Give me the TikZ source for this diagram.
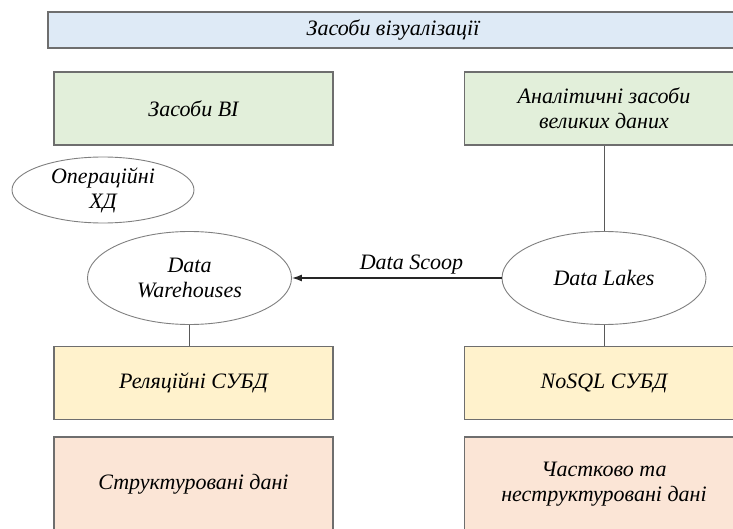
\documentclass[tikz,border=0pt]{standalone}
\usepackage{fontspec}
\setmainfont{Liberation Serif}
\usetikzlibrary{arrows.meta,shapes.geometric}
\definecolor{bluefill}{HTML}{DEEAF6}
\definecolor{greenfill}{HTML}{E2EFDA}
\definecolor{yellowfill}{HTML}{FFF2CC}
\definecolor{pinkfill}{HTML}{FBE5D6}
\definecolor{boxline}{HTML}{6E6E6E}
\definecolor{ellline}{HTML}{7F7F7F}
\definecolor{conline}{HTML}{595959}
\tikzset{
  every node/.style={font=\fontsize{22}{25}\selectfont\itshape, align=center, text=black},
  box/.style={rectangle, draw=boxline, line width=1.3pt, minimum width=279pt, minimum height=73pt, inner sep=0pt},
  oval/.style={ellipse, draw=ellline, line width=0.9pt, inner sep=0pt},
  conn/.style={draw=conline, line width=1pt},
}
\begin{document}
\begin{tikzpicture}[x=1pt,y=-1pt]
\useasboundingbox (0,0) rectangle (733,529);
\clip (0,0) rectangle (733,529);
\node[box, fill=bluefill, minimum width=690pt, minimum height=36pt] (viz) at (393,30) {Засоби візуалізації};
\node[box, fill=greenfill] (bi) at (193.5,108.5) {Засоби BI};
\node[box, fill=greenfill] (an) at (604,108.5) {Аналітичні засоби\\великих даних};
\node[oval, minimum width=182pt, minimum height=66pt] (op) at (103,190) {Операційні\\ХД};
\node[oval, minimum width=204pt, minimum height=93pt] (dw) at (189.5,278) {Data\\Warehouses};
\node[oval, minimum width=204pt, minimum height=93pt] (dl) at (604,278) {Data Lakes};
\node[box, fill=yellowfill] (rel) at (193.5,383) {Реляційні СУБД};
\node[box, fill=yellowfill] (nosql) at (604,383) {NoSQL СУБД};
\node[box, fill=pinkfill, minimum height=95pt] (str) at (193.5,484.5) {Структуровані дані};
\node[box, fill=pinkfill, minimum height=95pt] (unstr) at (604,484.5) {Частково та\\неструктуровані дані};
\draw[conn] (an.south) -- (dl.north);
\draw[conn] (dl.south) -- (nosql.north);
\draw[conn] (dw.south) -- (dw.south |- rel.north);
\draw[conn, draw=black!85, line width=1.3pt, -{Latex[length=10pt,width=7pt]}] (dl.west) -- node[above=0pt, pos=0.43] (ds) {Data Scoop} (dw.east);
\end{tikzpicture}
\end{document}
